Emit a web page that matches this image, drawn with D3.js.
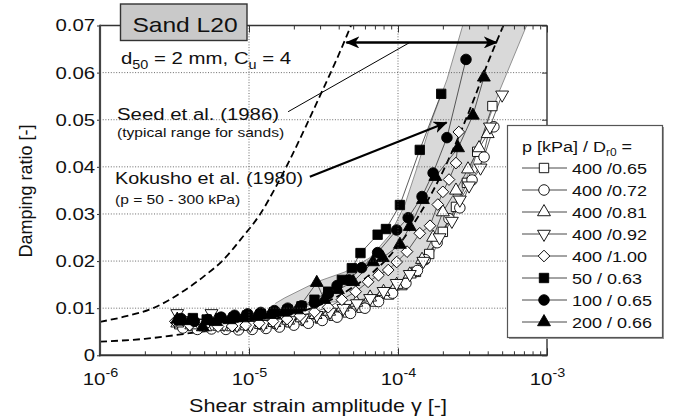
<!DOCTYPE html>
<html>
<head>
<meta charset="utf-8">
<script src="https://cdn.jsdelivr.net/npm/d3@7"></script>
<style>
  body { margin: 0; background: #fff; }
  svg { font-family: "Liberation Sans", Arial, Helvetica, sans-serif; }
</style>
</head>
<body>
<svg id="chart" width="682" height="420"></svg>
<script>
// axis ticks
const strainTicks = [1e-6, 1e-5, 1e-4, 1e-3]
const strainExp = ["-6", "-5", "-4", "-3"]
const dampTicks = [0, 0.01, 0.02, 0.03, 0.04, 0.05, 0.06, 0.07]
const dampLabels = ["0", "0.01", "0.02", "0.03", "0.04", "0.05", "0.06", "0.07"]

// 400 kPa / 0.65 (open square)
const strainA = [3.4e-6, 4.2e-6, 5.2e-6, 6.5e-6, 8e-6, 1.0e-5, 1.25e-5, 1.55e-5, 1.9e-5, 2.4e-5, 3.0e-5, 3.7e-5, 4.6e-5, 5.7e-5, 7.0e-5, 8.7e-5, 1.07e-4, 1.32e-4, 1.62e-4, 2.0e-4, 2.45e-4, 2.9e-4, 3.4e-4, 4.3e-4]
const dampA = [0.0066, 0.0062, 0.0060, 0.0063, 0.0061, 0.0063, 0.0065, 0.0067, 0.0070, 0.0073, 0.0078, 0.0084, 0.0091, 0.0101, 0.0114, 0.0129, 0.0149, 0.0177, 0.0215, 0.0262, 0.0315, 0.0366, 0.0432, 0.0529]
// 400 / 0.72 (open circle)
const strainB = [3.6e-6, 4.5e-6, 5.6e-6, 7e-6, 8.5e-6, 1.05e-5, 1.3e-5, 1.6e-5, 2.0e-5, 2.5e-5, 3.1e-5, 3.9e-5, 4.8e-5, 6.0e-5, 7.4e-5, 9.2e-5, 1.13e-4, 1.35e-4, 1.52e-4, 1.83e-4, 2.2e-4, 2.6e-4, 3.14e-4, 3.78e-4, 4.4e-4]
const dampB = [0.0058, 0.0055, 0.0056, 0.0055, 0.0054, 0.0055, 0.0057, 0.0060, 0.0064, 0.0068, 0.0074, 0.0081, 0.0089, 0.0100, 0.0114, 0.0132, 0.0153, 0.0180, 0.0203, 0.0239, 0.0290, 0.0313, 0.0372, 0.0421, 0.0485]
// 400 / 0.81 (open triangle)
const strainC = [3.3e-6, 4.1e-6, 5.1e-6, 6.3e-6, 7.8e-6, 9.6e-6, 1.2e-5, 1.48e-5, 1.83e-5, 2.25e-5, 2.8e-5, 3.45e-5, 4.25e-5, 5.25e-5, 6.5e-5, 8e-5, 9.8e-5, 1.2e-4, 1.45e-4, 1.72e-4, 2.0e-4, 2.45e-4, 2.95e-4, 3.5e-4, 4.0e-4]
const dampC = [0.0068, 0.0064, 0.0060, 0.0061, 0.0060, 0.0062, 0.0065, 0.0069, 0.0074, 0.0079, 0.0086, 0.0093, 0.0102, 0.0112, 0.0123, 0.0135, 0.0150, 0.0172, 0.0203, 0.0250, 0.0304, 0.0350, 0.0395, 0.0440, 0.0470]
// 400 / 0.92 (open down triangle)
const strainD = [3.3e-6, 4.0e-6, 4.9e-6, 5.6e-6, 6.8e-6, 8.3e-6, 1.02e-5, 1.25e-5, 1.53e-5, 1.88e-5, 2.3e-5, 2.85e-5, 3.5e-5, 4.3e-5, 5.3e-5, 6.5e-5, 8e-5, 9.8e-5, 1.2e-4, 1.48e-4, 1.9e-4, 2.3e-4, 2.6e-4, 3.0e-4, 3.58e-4, 4.14e-4, 5.0e-4]
const dampD = [0.0089, 0.0074, 0.0068, 0.0089, 0.0066, 0.0064, 0.0064, 0.0066, 0.0069, 0.0074, 0.0079, 0.0085, 0.0092, 0.0100, 0.0110, 0.0121, 0.0136, 0.0153, 0.0172, 0.0200, 0.0250, 0.0285, 0.0330, 0.0360, 0.0398, 0.0485, 0.0553]
// 400 / 1.00 (open diamond)
const strainE = [3.2e-6, 4e-6, 5e-6, 6.2e-6, 7.7e-6, 9.5e-6, 1.17e-5, 1.45e-5, 1.8e-5, 2.2e-5, 2.75e-5, 3.4e-5, 4.2e-5, 5.2e-5, 6.3e-5, 7.4e-5, 8.6e-5, 9.8e-5, 1.15e-4, 1.4e-4, 1.64e-4, 1.85e-4, 2.0e-4, 2.2e-4, 2.45e-4, 2.56e-4]
const dampE = [0.0072, 0.0064, 0.0062, 0.0061, 0.0062, 0.0064, 0.0068, 0.0072, 0.0077, 0.0084, 0.0092, 0.0102, 0.0118, 0.0135, 0.0156, 0.0170, 0.0181, 0.0198, 0.0220, 0.0259, 0.0275, 0.0320, 0.0347, 0.0373, 0.0408, 0.0474]
// 50 / 0.63 (filled square)
const strainF = [3.4e-6, 4.2e-6, 5.2e-6, 6.4e-6, 7.9e-6, 9.7e-6, 1.2e-5, 1.48e-5, 1.82e-5, 2.25e-5, 2.75e-5, 3.4e-5, 4.2e-5, 4.9e-5, 5.6e-5, 7.3e-5, 8.3e-5, 1.03e-4, 1.4e-4, 1.95e-4]
const dampF = [0.0074, 0.0079, 0.0076, 0.0079, 0.0080, 0.0084, 0.0087, 0.0091, 0.0097, 0.0104, 0.0118, 0.0135, 0.0160, 0.0185, 0.0217, 0.0256, 0.0268, 0.0319, 0.0436, 0.0555]
// 100 / 0.65 (filled circle)
const strainG = [3.5e-6, 4.3e-6, 5.3e-6, 6.5e-6, 8e-6, 9.8e-6, 1.2e-5, 1.48e-5, 1.82e-5, 2.25e-5, 2.75e-5, 3.4e-5, 3.9e-5, 4.7e-5, 5.7e-5, 7.3e-5, 9.8e-5, 1.17e-4, 1.45e-4, 1.72e-4, 2.13e-4, 2.86e-4]
const dampG = [0.0078, 0.0072, 0.0076, 0.0081, 0.0085, 0.0088, 0.0091, 0.0095, 0.0100, 0.0105, 0.0111, 0.0130, 0.0148, 0.0160, 0.0186, 0.0218, 0.0266, 0.0292, 0.0337, 0.0387, 0.0462, 0.0628]
// 200 / 0.66 (filled triangle)
const strainH = [3.3e-6, 4.0e-6, 4.9e-6, 6.0e-6, 7.4e-6, 9.1e-6, 1.12e-5, 1.38e-5, 1.7e-5, 2.1e-5, 2.85e-5, 3.2e-5, 3.95e-5, 5.0e-5, 6.8e-5, 7.9e-5, 1.03e-4, 1.2e-4, 1.47e-4, 1.78e-4, 2.53e-4, 3.18e-4, 3.77e-4]
const dampH = [0.0076, 0.0073, 0.0060, 0.0071, 0.0075, 0.0079, 0.0082, 0.0086, 0.0091, 0.0096, 0.0154, 0.0118, 0.0139, 0.0156, 0.0198, 0.0207, 0.0235, 0.0273, 0.0330, 0.0379, 0.0440, 0.0509, 0.0590]

// Kokusho et al. (1980), dashed bounds
const kokushoUpStrain = [1e-6, 1.5e-6, 2.27e-6, 3.5e-6, 5e-6, 6.6e-6, 9e-6, 1.19e-5, 1.5e-5, 1.88e-5, 2.4e-5, 3.09e-5, 3.9e-5, 4.84e-5]
const kokushoUpDamp = [0.0071, 0.0083, 0.0100, 0.0133, 0.0168, 0.0200, 0.0250, 0.0300, 0.0355, 0.0415, 0.0485, 0.0560, 0.0630, 0.0700]
const kokushoLoStrain = [1e-6, 2e-6, 4e-6, 7e-6, 1e-5, 2e-5, 3e-5, 5e-5, 7e-5, 1e-4, 1.4e-4, 2e-4, 2.6e-4, 3.2e-4, 4e-4, 5.1e-4]
const kokushoLoDamp = [0.0029, 0.0035, 0.0047, 0.0058, 0.0066, 0.0088, 0.0107, 0.0145, 0.0180, 0.0232, 0.0300, 0.0390, 0.0470, 0.0540, 0.0620, 0.0700]

// Seed et al. (1986) range for sands
const seedUpStrain = [1.5e-5, 1.74e-5, 2.86e-5, 4.41e-5, 6.49e-5, 8.84e-5, 1.11e-4, 1.36e-4, 1.69e-4, 2.13e-4, 2.73e-4]
const seedUpDamp = [0.0110, 0.0122, 0.0156, 0.0177, 0.0207, 0.0256, 0.0319, 0.0404, 0.0500, 0.0585, 0.0702]
const seedLoStrain = [1.5e-5, 1.74e-5, 3.0e-5, 5.56e-5, 1.03e-4, 1.64e-4, 2.41e-4, 3.39e-4, 4.84e-4, 7.34e-4]
const seedLoDamp = [0.0100, 0.0092, 0.0111, 0.0118, 0.0139, 0.0203, 0.0309, 0.0436, 0.0564, 0.0702]

const seriesLabels = ["400 /0.65", "400 /0.72", "400 /0.81", "400 /0.92", "400 /1.00", "50 / 0.63", "100 / 0.65", "200 / 0.66"]

const svg = d3.select("#chart")
const x = d3.scaleLog().domain([1e-6, 1e-3]).range([100, 547])
const y = d3.scaleLinear().domain([0, 0.07]).range([355.3, 25.5])
// the figure's lettering is drawn a bit wider than it is tall
const SX = 1.2

const series = [
  { s: strainA, d: dampA, type: d3.symbolSquare, size: 88, rot: 0, fill: "#fff" },
  { s: strainB, d: dampB, type: d3.symbolCircle, size: 88, rot: 0, fill: "#fff" },
  { s: strainC, d: dampC, type: d3.symbolTriangle, size: 72, rot: 0, fill: "#fff" },
  { s: strainD, d: dampD, type: d3.symbolTriangle, size: 72, rot: 180, fill: "#fff" },
  { s: strainE, d: dampE, type: d3.symbolSquare, size: 68, rot: 45, fill: "#fff" },
  { s: strainF, d: dampF, type: d3.symbolSquare, size: 88, rot: 0, fill: "#000" },
  { s: strainG, d: dampG, type: d3.symbolCircle, size: 88, rot: 0, fill: "#000" },
  { s: strainH, d: dampH, type: d3.symbolTriangle, size: 72, rot: 0, fill: "#000" },
].map((o, i) => ({ ...o, label: seriesLabels[i], pts: o.s.map((v, k) => [v, o.d[k]]) }))

const defs = svg.append("defs")
defs.append("clipPath").attr("id", "plot")
  .append("rect").attr("x", 100).attr("y", 25.5).attr("width", 447).attr("height", 330)

const line = d3.line().x((d) => x(d[0])).y((d) => y(d[1]))
const smooth = d3.line().x((d) => x(d[0])).y((d) => y(d[1])).curve(d3.curveMonotoneX)
const zip = (a, b) => a.map((v, i) => [v, b[i]])

const label = (px, py, size, anchor) => svg.append("text")
  .attr("transform", `translate(${px},${py}) scale(${SX},1)`)
  .attr("font-size", size).attr("fill", "#111").attr("text-anchor", anchor || "start")

const plot = svg.append("g").attr("clip-path", "url(#plot)")

// Seed band
const band = zip(seedUpStrain, seedUpDamp).concat(zip(seedLoStrain, seedLoDamp).reverse())
plot.append("path").attr("d", line(band) + "Z")
  .attr("fill", "#d9d9d9").attr("stroke", "none")
;[zip(seedUpStrain, seedUpDamp), zip(seedLoStrain, seedLoDamp)].forEach((c) => {
  plot.append("path").attr("d", line(c))
    .attr("fill", "none").attr("stroke", "#7a7a7a").attr("stroke-width", 0.8)
})

// grid
const grid = svg.append("g").attr("stroke", "#444").attr("stroke-width", 0.8).attr("stroke-dasharray", "1,1.7")
dampTicks.slice(1, -1).forEach((t) => {
  grid.append("line").attr("x1", 100).attr("x2", 547).attr("y1", y(t)).attr("y2", y(t))
})
strainTicks.slice(1, -1).forEach((t) => {
  grid.append("line").attr("x1", x(t)).attr("x2", x(t)).attr("y1", 25.5).attr("y2", 355.3)
})

// Kokusho curves
;[zip(kokushoUpStrain, kokushoUpDamp), zip(kokushoLoStrain, kokushoLoDamp)].forEach((c) => {
  plot.append("path").attr("d", smooth(c))
    .attr("fill", "none").attr("stroke", "#000").attr("stroke-width", 1.8)
    .attr("stroke-dasharray", "7,4")
})

// data
const sym = (o) => d3.symbol().type(o.type).size(o.size)()
series.forEach((o) => {
  plot.append("path").attr("d", line(o.pts))
    .attr("fill", "none").attr("stroke", "#333").attr("stroke-width", 0.8)
})
series.forEach((o) => {
  plot.append("g").selectAll("path").data(o.pts).join("path")
    .attr("d", sym(o))
    .attr("transform", (d) => `translate(${x(d[0])},${y(d[1])}) rotate(${o.rot})`)
    .attr("fill", o.fill).attr("stroke", "#000").attr("stroke-width", 0.9)
})

// axes
const minor = []
for (let e = -6; e < -3; e++) for (let m = 2; m <= 9; m++) minor.push(m * Math.pow(10, e))

svg.append("g").attr("transform", "translate(0,355.3)")
  .call(d3.axisBottom(x).tickValues(minor).tickSize(-4).tickFormat(""))
svg.append("g").attr("transform", "translate(0,25.5)")
  .call(d3.axisTop(x).tickValues(minor).tickSize(-4).tickFormat(""))
svg.append("g").attr("transform", "translate(0,25.5)")
  .call(d3.axisTop(x).tickValues(strainTicks).tickSize(-7).tickFormat(""))

const xAxis = svg.append("g").attr("transform", "translate(0,355.3)")
  .call(d3.axisBottom(x).tickValues(strainTicks).tickSize(-7).tickPadding(18))
xAxis.selectAll("text")
  .attr("font-size", 17).attr("fill", "#111").attr("font-family", null)
  .attr("transform", `scale(${SX},1)`)
  .text("10")
  .append("tspan").attr("dy", -8).attr("font-size", 12).text((d, i) => strainExp[i])

const yAxis = svg.append("g").attr("transform", "translate(100,0)")
  .call(d3.axisLeft(y).tickValues(dampTicks).tickSize(3).tickPadding(1)
    .tickFormat((d, i) => dampLabels[i]))
yAxis.selectAll("text").attr("font-size", 17).attr("fill", "#111").attr("font-family", null)
  .attr("transform", `scale(${SX},1)`)
svg.append("g").attr("transform", "translate(547,0)")
  .call(d3.axisRight(y).tickValues(dampTicks).tickSize(-5).tickFormat(""))

svg.selectAll(".domain").remove()
svg.selectAll(".tick line").attr("stroke", "#333")

// frame
svg.append("line").attr("x1", 100).attr("x2", 547).attr("y1", 25.5).attr("y2", 25.5).attr("stroke", "#333").attr("stroke-width", 1.4)
svg.append("line").attr("x1", 547).attr("x2", 547).attr("y1", 25.5).attr("y2", 355.3).attr("stroke", "#333").attr("stroke-width", 1.4)
svg.append("line").attr("x1", 100).attr("x2", 100).attr("y1", 24.8).attr("y2", 356.3).attr("stroke", "#444").attr("stroke-width", 2.2)
svg.append("line").attr("x1", 99).attr("x2", 547.7).attr("y1", 355.3).attr("y2", 355.3).attr("stroke", "#333").attr("stroke-width", 2)

// axis titles
svg.append("text").attr("transform", "translate(32,191) rotate(-90)")
  .attr("text-anchor", "middle").attr("font-size", 18).attr("fill", "#111")
  .text("Damping ratio [-]")
label(318, 412, 18, "middle").text("Shear strain amplitude γ [-]")

// title box
svg.append("rect").attr("x", 120.5).attr("y", 4).attr("width", 126.5).attr("height", 36.5)
  .attr("fill", "#c9c9c9").attr("stroke", "#333").attr("stroke-width", 1.4)
label(185, 32, 20.5, "middle").text("Sand L20")

const d50 = label(121, 64, 17)
d50.append("tspan").text("d")
d50.append("tspan").attr("dy", 5).attr("font-size", 12).text("50")
d50.append("tspan").attr("dy", -5).text(" = 2 mm, C")
d50.append("tspan").attr("dy", 5).attr("font-size", 12).text("u")
d50.append("tspan").attr("dy", -5).text(" = 4")

// annotations
label(117, 120, 17).text("Seed et al. (1986)")
label(117, 137, 13).text("(typical range for sands)")
label(115, 184, 16.5).text("Kokusho et al. (1980)")
label(115, 204, 13).text("(p = 50 - 300 kPa)")

const head = (id, orient) => defs.append("marker").attr("id", id)
  .attr("viewBox", "0 0 14 12").attr("refX", 13).attr("refY", 6)
  .attr("markerWidth", 14).attr("markerHeight", 12).attr("markerUnits", "userSpaceOnUse")
  .attr("orient", orient)
  .append("path").attr("d", "M0,0 L14,6 L0,12 L4,6 Z").attr("fill", "#000")
head("ah", "auto")
head("ahs", "auto-start-reverse")

// Seed pointer and range arrow
svg.append("line").attr("x1", x(1.83e-5)).attr("y1", y(0.0517)).attr("x2", x(1.2e-4)).attr("y2", y(0.0664))
  .attr("stroke", "#000").attr("stroke-width", 1)
svg.append("line").attr("x1", x(4.5e-5)).attr("y1", y(0.0664)).attr("x2", x(4.6e-4)).attr("y2", y(0.0664))
  .attr("stroke", "#000").attr("stroke-width", 2.4)
  .attr("marker-start", "url(#ahs)").attr("marker-end", "url(#ah)")
// Kokusho pointer
svg.append("line").attr("x1", x(2.56e-5)).attr("y1", y(0.0379)).attr("x2", x(2.12e-4)).attr("y2", y(0.0494))
  .attr("stroke", "#000").attr("stroke-width", 2.2).attr("marker-end", "url(#ah)")

// legend
const lg = svg.append("g")
lg.append("rect").attr("x", 509).attr("y", 127).attr("width", 155).attr("height", 212)
  .attr("fill", "#999")
lg.append("rect").attr("x", 507.5).attr("y", 125.5).attr("width", 155).attr("height", 212)
  .attr("fill", "#fff").attr("stroke", "#555").attr("stroke-width", 1.2)
const lt = label(522, 152, 15)
lt.append("tspan").text("p [kPa] / D")
lt.append("tspan").attr("dy", 4).attr("font-size", 10).text("r0")
lt.append("tspan").attr("dy", -4).text(" =")
series.forEach((o, i) => {
  const yy = 168 + i * 22
  lg.append("line").attr("x1", 522).attr("x2", 567).attr("y1", yy).attr("y2", yy)
    .attr("stroke", "#333").attr("stroke-width", 0.9)
  lg.append("path").attr("d", sym(o))
    .attr("transform", `translate(544,${yy}) rotate(${o.rot})`)
    .attr("fill", o.fill).attr("stroke", "#000").attr("stroke-width", 0.9)
  label(572, yy + 5.5, 15).text(o.label)
})
</script>
</body>
</html>
